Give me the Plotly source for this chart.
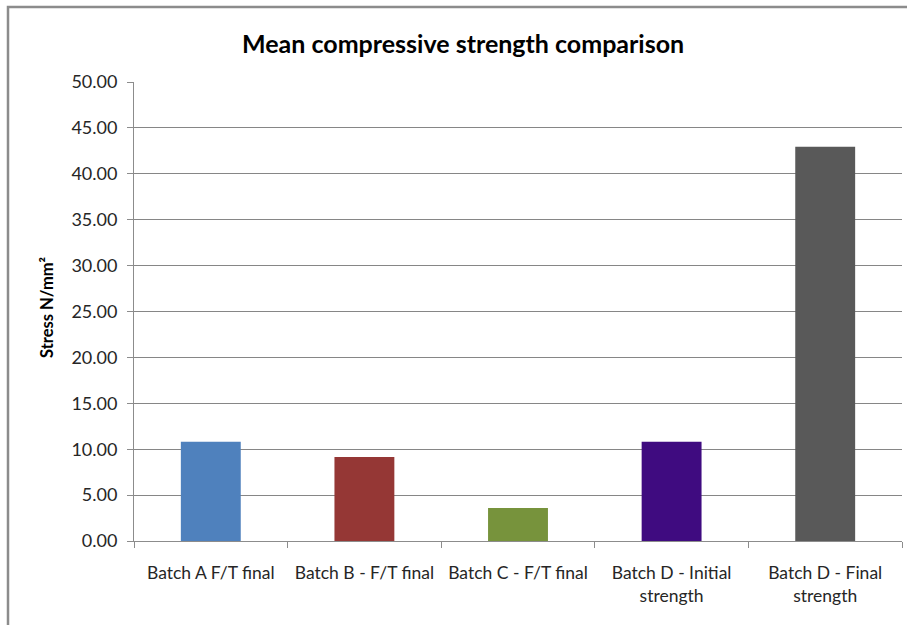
import plotly.graph_objects as go

categories = ["Batch A F/T final", "Batch B - F/T final", "Batch C - F/T final",
              "Batch D - Initial<br>strength", "Batch D - Final<br>strength"]
values = [10.8, 9.15, 3.6, 10.8, 42.95]
colors = ["#4F81BD", "#953735", "#77933C", "#3F0B80", "#595959"]
y_ticks = [0, 5, 10, 15, 20, 25, 30, 35, 40, 45, 50]
y_tick_labels = [f"{v:.2f}" for v in y_ticks]

W, H = 907, 625
L, R, T, B = 134, 5, 82, 84
pw, ph = W - L - R, H - T - B

def px_x(p):
    return (p - L) / pw

def px_y(p):
    return (H - B - p) / ph

fig = go.Figure(go.Bar(
    x=categories, y=values, marker=dict(color=colors, line=dict(width=0)),
    width=0.39,
))

fig.update_layout(
    width=W, height=H,
    margin=dict(l=L, r=R, t=T, b=B),
    paper_bgcolor="white", plot_bgcolor="white",
    showlegend=False,
    font=dict(family="Lato, Open Sans, sans-serif", color="#262626"),
    xaxis=dict(
        showline=True, linecolor="#8C8C8C", linewidth=1,
        ticks="outside", ticklen=6, tickcolor="#8C8C8C", tickson="boundaries",
        tickfont=dict(size=17.5, color="#262626"),
        ticklabelstandoff=16,
        showgrid=False,
    ),
    yaxis=dict(
        range=[0, 50], tickvals=y_ticks, ticktext=y_tick_labels,
        showline=True, linecolor="#8C8C8C", linewidth=1,
        ticks="outside", ticklen=6, tickcolor="#8C8C8C",
        showgrid=True, gridcolor="#868686", gridwidth=1,
        tickfont=dict(size=18, color="#262626"),
        zeroline=False,
        ticklabelstandoff=6,
    ),
    shapes=[dict(type="rect", xref="paper", yref="paper",
                 x0=px_x(8), x1=px_x(915), y0=px_y(635), y1=px_y(7),
                 line=dict(color="#8C8C8C", width=2.5), fillcolor="rgba(0,0,0,0)",
                 layer="below")],
    annotations=[
        dict(text="<b>Mean compressive strength comparison</b>", xref="paper", yref="paper",
             x=px_x(463), y=px_y(43), showarrow=False, xanchor="center", yanchor="middle",
             font=dict(size=25, color="#000000")),
        dict(text="<b>Stress N/mm²</b>", xref="paper", yref="paper",
             x=px_x(47), y=px_y(308), showarrow=False, xanchor="center", yanchor="middle",
             textangle=-90, font=dict(size=16.5, color="#000000")),
    ],
)

fig.write_html("out.html", config={"displayModeBar": False},
               post_script="document.body.style.margin='0';document.body.style.overflow='hidden';")
